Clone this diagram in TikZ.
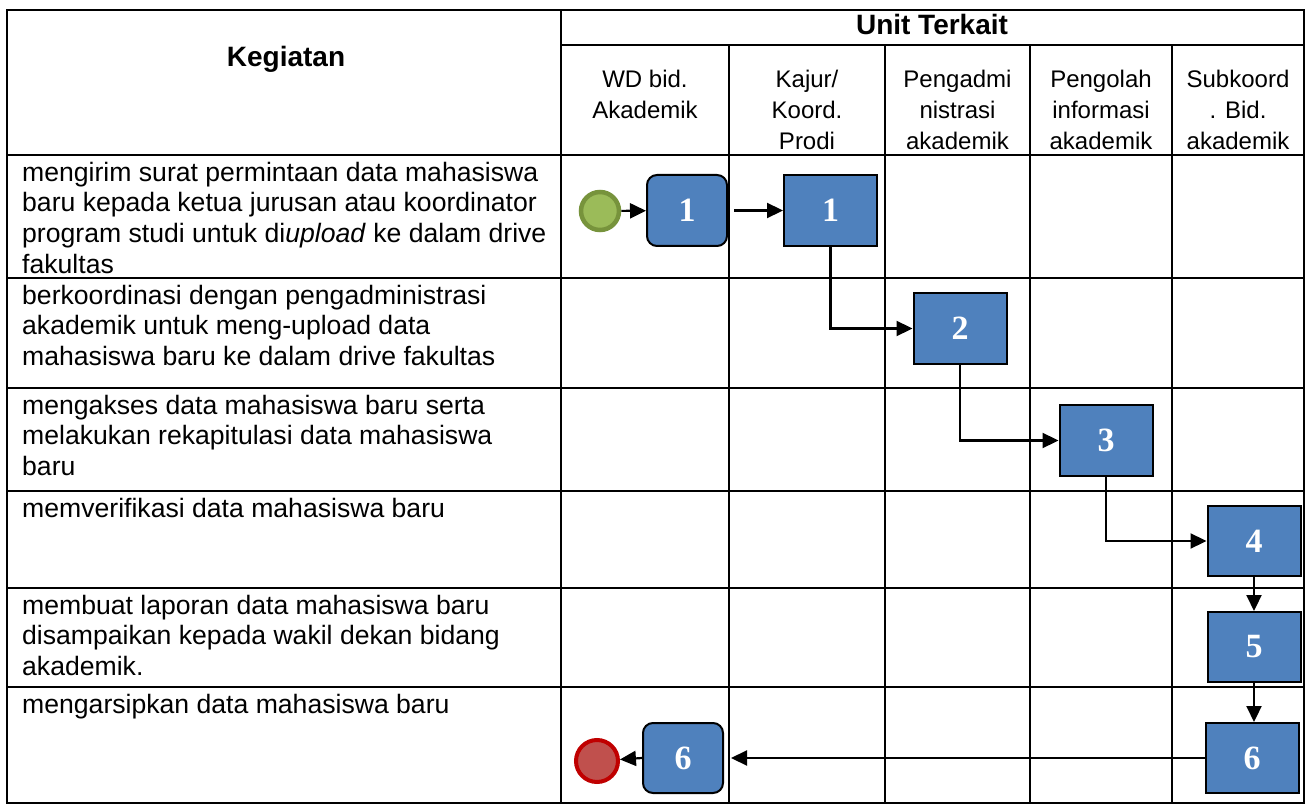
\documentclass[tikz,border=0pt]{standalone}
\usepackage{fontspec}
\setmainfont{Liberation Sans}
\newfontfamily\numfont{Liberation Serif}
\usetikzlibrary{arrows.meta}
\definecolor{boxblue}{HTML}{4F81BD}
\definecolor{startfill}{HTML}{9BBB59}
\definecolor{startdraw}{HTML}{77933C}
\definecolor{endfill}{HTML}{C0504D}
\definecolor{enddraw}{HTML}{C00000}
\begin{document}
\begin{tikzpicture}[x=1pt,y=-1pt,
  grid/.style={line width=2.8pt},
  rowtext/.style={anchor=north west, align=left, inner sep=0pt, font=\fontsize{26.6}{30.7}\selectfont},
  headtext/.style={anchor=north, align=center, inner sep=0pt, font=\fontsize{24}{31}\selectfont},
  titletext/.style={anchor=base, inner sep=0pt, font=\bfseries\fontsize{28}{30}\selectfont},
  task/.style={draw=black, line width=2pt, fill=boxblue, minimum width=93pt, minimum height=71pt, inner sep=0pt, font=\numfont\bfseries\fontsize{34}{34}\selectfont, text=white},
  rtask/.style={task, rounded corners=10pt, minimum width=80pt},
  flow/.style={line width=2.2pt, -{Triangle[length=16pt,width=15pt]}}
]
\useasboundingbox (0,0) rectangle (1312,805);
\fill[white] (0,0) rectangle (1312,805);

% grid
\draw[grid] (7,10) rectangle (1304,803);
\draw[grid] (561,10) -- (561,803);
\draw[grid] (561,45) -- (1304,45);
\foreach \x in {729,885,1030,1172} \draw[grid] (\x,45) -- (\x,803);
\foreach \y in {155,278,388,491,588,687} \draw[grid] (7,\y) -- (1304,\y);

% headers
\node[titletext] (hkeg) at (286,67) {Kegiatan};
\node[titletext] (hunit) at (932,35) {Unit Terkait};
\node[headtext] (c1) at (645,65.5) {\strut WD bid.\\Akademik};
\node[headtext] (c2) at (807,65.5) {\strut Kajur/\\Koord.\\Prodi};
\node[headtext] (c3) at (957.5,65.5) {\strut Pengadmi\\nistrasi\\akademik};
\node[headtext] (c4) at (1101,65.5) {\strut Pengolah\\informasi\\akademik};
\node[headtext] (c5) at (1238,65.5) {\strut Subkoord\\. Bid.\\akademik};

% row texts
\node[rowtext] (t1) at (22,159.5) {\strut mengirim surat permintaan data mahasiswa\\baru kepada ketua jurusan atau koordinator\\program studi untuk di\textit{upload} ke dalam drive\\fakultas};
\node[rowtext] (t2) at (22,282.5) {\strut berkoordinasi dengan pengadministrasi\\akademik untuk meng-upload data\\mahasiswa baru ke dalam drive fakultas};
\node[rowtext] (t3) at (22,392.5) {\strut mengakses data mahasiswa baru serta\\melakukan rekapitulasi data mahasiswa\\baru};
\node[rowtext] (t4) at (22,495.5) {\strut memverifikasi data mahasiswa baru};
\node[rowtext] (t5) at (22,592.5) {\strut membuat laporan data mahasiswa baru\\disampaikan kepada wakil dekan bidang\\akademik.};
\node[rowtext] (t6) at (22,691.5) {\strut mengarsipkan data mahasiswa baru};

% flow nodes
\node[circle, draw=startdraw, line width=4.5pt, fill=startfill, minimum size=38pt, inner sep=0pt] (start) at (600,211) {};
\node[rtask] (r1) at (687,210.5) {1};
\node[task] (b1) at (830.5,210.5) {1};
\node[task] (b2) at (960,328.5) {2};
\node[task] (b3) at (1106,440.5) {3};
\node[task, minimum height=70pt] (b4) at (1254,541) {4};
\node[task, minimum height=70pt] (b5) at (1254,647) {5};
\node[task, minimum height=70pt] (b6) at (1252,758) {6};
\node[rtask, minimum height=70pt] (r6) at (683,758) {6};
\node[circle, draw=enddraw, line width=4pt, fill=endfill, minimum size=42pt, inner sep=0pt] (end) at (597,761) {};

% connectors
\draw[flow] (start) -- (r1);
\draw[flow] ([xshift=6pt]r1.east) -- (b1.west);
\draw[flow] (b1.south) |- (b2.west);
\draw[flow] (b2.south) |- (b3.west);
\draw[flow] (b3.south) |- (b4.west);
\draw[flow] (b4.south) -- (b5.north);
\draw[flow] (b5.south) -- (b5.south |- b6.north);
\draw[flow] (b6.west) -- ([xshift=7pt]b6.west -| r6.east);
\draw[flow] (r6.west) -- (end);
\end{tikzpicture}
\end{document}
